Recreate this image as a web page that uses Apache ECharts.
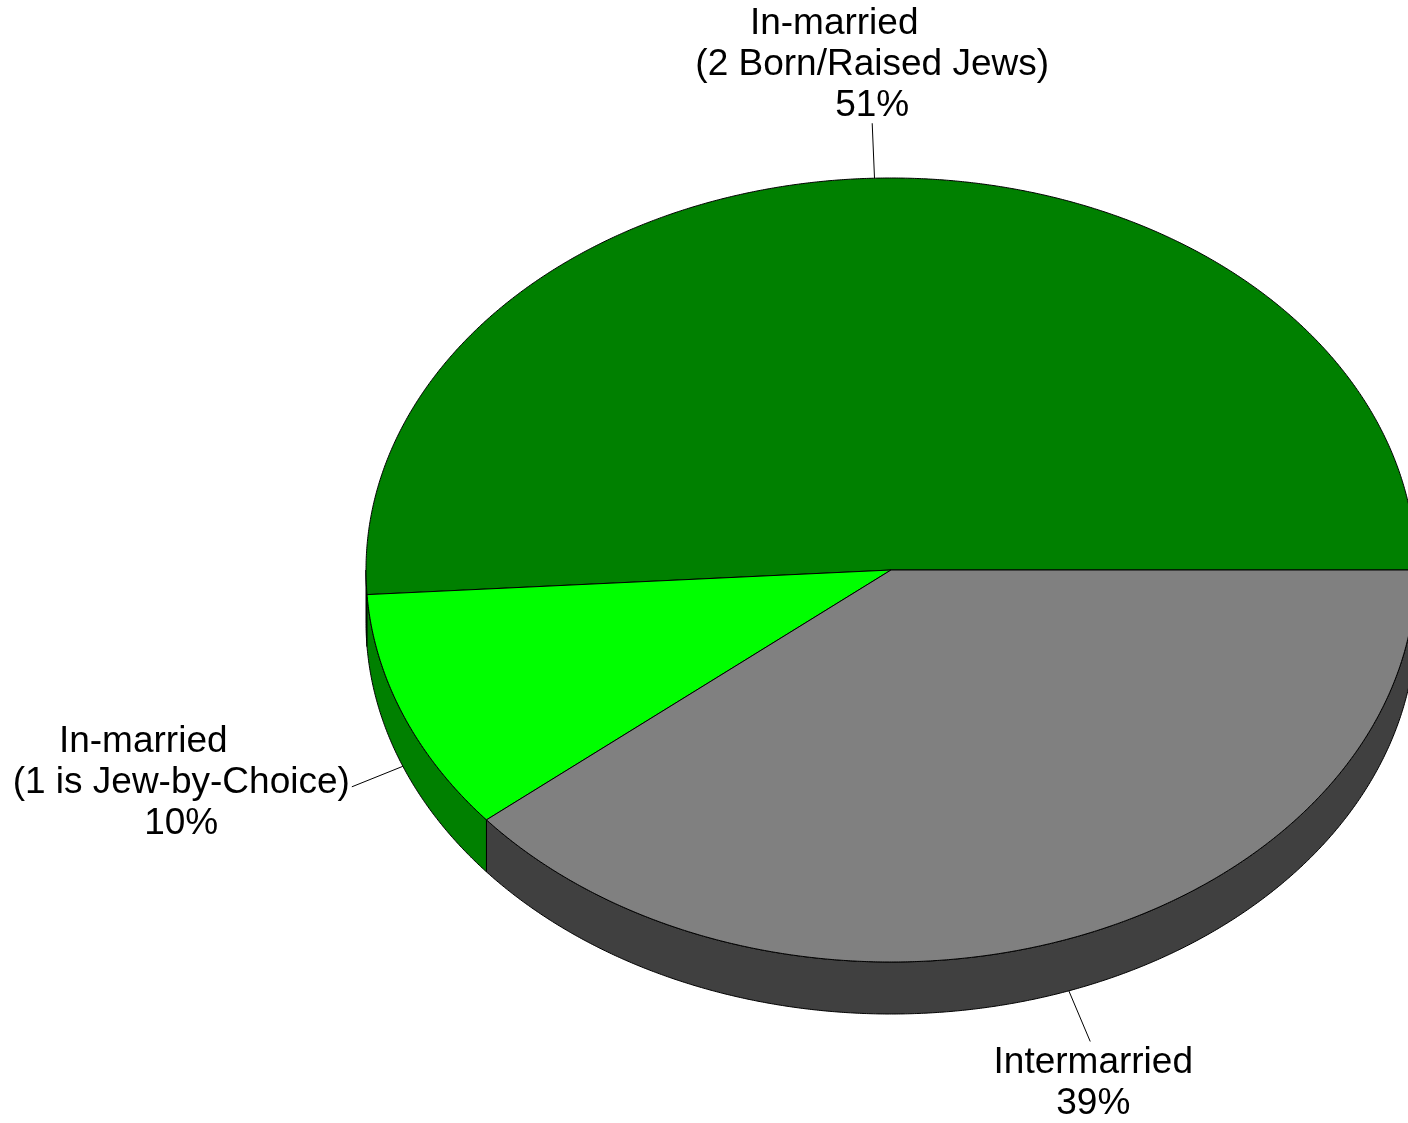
<!DOCTYPE html>
<html>
<head>
<meta charset="utf-8">
<script src="https://cdn.jsdelivr.net/npm/echarts@6/dist/echarts.min.js"></script>
<style>
html,body{margin:0;padding:0;background:#fff;}
#chart{width:1408px;height:1123px;}
</style>
</head>
<body>
<div id="chart"></div>
<script>
// ---- data ----
const categories = ['In-married\n(2 Born/Raised Jews)', 'In-married\n(1 is Jew-by-Choice)', 'Intermarried'];
const values = [51, 10, 39];
// ---- styles ----
const topColors = ['#008000', '#00ff00', '#808080'];
const sideColors = ['#004000', '#008000', '#404040'];

// ---- layout ----
const CX = 891, CY = 570, RX = 525, RY = 392, DEPTH = 52, LEADER = 55;
const FONT = 'Liberation Sans, Arial, sans-serif';
const total = values.reduce((a, b) => a + b, 0);
const starts = [];
values.reduce((acc, v, i) => { starts[i] = acc; return acc + v; }, 0);

function pt(t, dy) { return [CX + RX * Math.cos(t), CY - RY * Math.sin(t) + (dy || 0)]; }
function arc(a, b, dy) {
  const pts = [];
  const n = Math.max(2, Math.ceil(Math.abs(b - a) / (Math.PI / 720)));
  for (let k = 0; k <= n; k++) pts.push(pt(a + (b - a) * k / n, dy));
  return pts;
}
function angles(i, api) {
  const v = api.value(0);
  const a = starts[i] / total * Math.PI * 2;
  const b = (starts[i] + v) / total * Math.PI * 2;
  return [a, b];
}

const chart = echarts.init(document.getElementById('chart'), null, { renderer: 'canvas' });
const seriesData = values.map((v, i) => ({ name: categories[i], value: [v] }));

chart.setOption({
  backgroundColor: '#ffffff',
  animation: false,
  series: [
    {
      type: 'custom',
      coordinateSystem: 'none',
      z: 1,
      data: seriesData,
      renderItem: function (params, api) {
        const i = params.dataIndex;
        const [a, b] = angles(i, api);
        const s = Math.max(a, Math.PI), e = Math.min(b, Math.PI * 2);
        if (s >= e) return { type: 'group', children: [] };
        const pts = arc(s, e, 0).concat(arc(e, s, DEPTH));
        return {
          type: 'polygon',
          shape: { points: pts },
          style: { fill: sideColors[i], stroke: '#000', lineWidth: 1 }
        };
      }
    },
    {
      type: 'custom',
      coordinateSystem: 'none',
      z: 2,
      data: seriesData,
      renderItem: function (params, api) {
        const i = params.dataIndex;
        const [a, b] = angles(i, api);
        const pts = [[CX, CY]].concat(arc(a, b, 0));
        const mid = (a + b) / 2;
        const lower = Math.sin(mid) < 0;
        const p0 = pt(mid, lower ? DEPTH : 0);
        const ex = p0[0] - CX, ey = p0[1] - CY;
        const len = Math.sqrt(ex * ex + ey * ey);
        const dx = ex / len, dy = ey / len;
        const p1 = [p0[0] + dx * LEADER, p0[1] + dy * LEADER];
        const pct = Math.round(api.value(0) / total * 100) + '%';
        const nameLines = categories[i].split('\n');
        const lines = nameLines.concat([pct]);
        const multi = nameLines.length > 1;
        const text = lines.map((l, k) => ((k === 0 && multi) ? '{a|' : '{b|') + l + '}').join('\n');
        let align = 'center', vAlign = dy < 0 ? 'bottom' : 'top', tx = p1[0], ty = p1[1];
        if (Math.abs(dx) > 0.7) {
          align = dx < 0 ? 'right' : 'left';
          vAlign = 'middle';
          tx += dx < 0 ? -2 : 2;
          ty -= 4;
        } else {
          ty += dy < 0 ? 3 : 1;
          tx += dy < 0 ? 0 : 3;
        }
        const tok = { fontSize: 37, fontFamily: FONT, lineHeight: 41, align: 'center', fill: '#000' };
        return {
          type: 'group',
          children: [
            {
              type: 'polygon',
              shape: { points: pts },
              style: { fill: topColors[i], stroke: '#000', lineWidth: 1 }
            },
            {
              type: 'line',
              shape: { x1: p0[0], y1: p0[1], x2: p1[0], y2: p1[1] },
              style: { stroke: '#000', lineWidth: 1 }
            },
            {
              type: 'text',
              style: {
                text: text,
                x: tx, y: ty,
                align: align,
                verticalAlign: vAlign,
                fill: '#000',
                fontSize: 37,
                fontFamily: FONT,
                lineHeight: 41,
                rich: {
                  a: Object.assign({}, tok, { padding: [0, 76, 0, 0] }),
                  b: tok
                }
              }
            }
          ]
        };
      }
    }
  ]
});
</script>
</body>
</html>
